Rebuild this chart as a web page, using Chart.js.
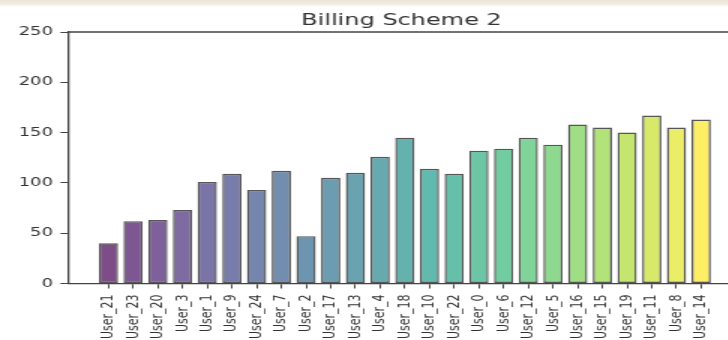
<!DOCTYPE html>
<html>
<head>
<meta charset="utf-8">
<script src="https://cdn.jsdelivr.net/npm/chart.js@4/dist/chart.umd.min.js"></script>
<style>
    html, body {
        margin: 0;
        padding: 0;
        width: 728px;
        height: 340px;
        overflow: hidden;
        background: linear-gradient(to bottom, #ece5d6 0px, #f2ede3 4px, #ffffff 7px);
    }
    /* o gráfico é desenhado mais estreito e esticado na horizontal */
    #area {
        position: absolute;
        left: 0;
        top: 0;
        width: 490px;
        height: 340px;
        transform: scaleX(1.5);
        transform-origin: 0 0;
    }
</style>
</head>
<body>
<div id="area"><canvas id="myChart"></canvas></div>
<script>
// Dados do gráfico
var usuarios = ['User_21', 'User_23', 'User_20', 'User_3', 'User_1', 'User_9', 'User_24', 'User_7',
    'User_2', 'User_17', 'User_13', 'User_4', 'User_18', 'User_10', 'User_22', 'User_0', 'User_6',
    'User_12', 'User_5', 'User_16', 'User_15', 'User_19', 'User_11', 'User_8', 'User_14'];
var valores = [40, 62, 63, 73, 101, 109, 93, 112, 47, 105, 110, 126, 145, 114, 109, 132, 134,
    145, 138, 158, 155, 150, 167, 155, 163];
var ticksY = [0, 50, 100, 150, 200, 250];
var titulo = 'Billing Scheme 2';

// Paleta viridis (10 pontos), interpolada para cada barra
var viridis = ['#440154', '#482878', '#3e4989', '#31688e', '#26828e', '#1f9e89', '#35b779', '#6ece58', '#b5de2b', '#fde725'];

function hexParaRgb(h) {
    return [parseInt(h.substr(1, 2), 16), parseInt(h.substr(3, 2), 16), parseInt(h.substr(5, 2), 16)];
}

function corViridis(t) {
    var pos = t * (viridis.length - 1);
    var i = Math.min(Math.floor(pos), viridis.length - 2);
    var f = pos - i;
    var a = hexParaRgb(viridis[i]);
    var b = hexParaRgb(viridis[i + 1]);
    var c = a.map((v, k) => Math.round(v + (b[k] - v) * f));
    return 'rgba(' + c[0] + ',' + c[1] + ',' + c[2] + ',0.7)';
}

var cores = usuarios.map((u, i) => corViridis(i / (usuarios.length - 1)));

// Linha superior do quadro do gráfico
var bordaSuperior = {
    id: 'bordaSuperior',
    afterDraw(chart) {
        var ctx = chart.ctx;
        var area = chart.chartArea;
        ctx.save();
        ctx.strokeStyle = '#444';
        ctx.lineWidth = 1.3;
        ctx.beginPath();
        ctx.moveTo(area.left, area.top);
        ctx.lineTo(area.right, area.top);
        ctx.stroke();
        ctx.restore();
    }
};

var fonte = 'DejaVu Sans';

var ctx = document.getElementById('myChart').getContext('2d');
var myChart = new Chart(ctx, {
    type: 'bar',
    data: {
        datasets: [{
            label: titulo,
            data: valores.map((v, i) => ({ x: i, y: v })),
            backgroundColor: cores,
            borderColor: 'rgba(30,30,30,0.75)',
            borderWidth: 1.4,
            borderSkipped: false,
            barPercentage: 0.78,
            categoryPercentage: 1.0
        }]
    },
    options: {
        responsive: true,
        maintainAspectRatio: false,
        animation: false,
        layout: { padding: 0 },
        plugins: {
            legend: { display: false },
            tooltip: { enabled: false },
            title: {
                display: true,
                text: titulo,
                fullSize: false,
                color: '#333',
                font: { family: fonte, size: 16, weight: 'normal' },
                padding: { top: 11, bottom: 1.8 }
            }
        },
        scales: {
            x: {
                type: 'linear',
                offset: false,
                min: -1.64,
                max: 25.37,
                afterBuildTicks: function (scale) {
                    scale.ticks = usuarios.map((u, i) => ({ value: i }));
                },
                afterFit: function (scale) {
                    scale.height = 56.5;
                    scale.paddingLeft = 0;
                    scale.paddingRight = 0;
                },
                ticks: {
                    autoSkip: false,
                    minRotation: 90,
                    maxRotation: 90,
                    padding: 6,
                    color: '#333',
                    font: { family: fonte, size: 11 },
                    callback: function (valor) {
                        return usuarios[valor];
                    }
                },
                grid: {
                    offset: false,
                    drawOnChartArea: false,
                    tickLength: 5,
                    tickColor: '#444'
                },
                border: { display: true, color: '#444', width: 1.3 }
            },
            y: {
                min: 0,
                max: 250,
                afterBuildTicks: function (scale) {
                    scale.ticks = ticksY.map(v => ({ value: v }));
                },
                afterFit: function (scale) {
                    scale.width = 45.3;
                },
                ticks: {
                    padding: 5,
                    color: '#333',
                    font: { family: fonte, size: 12 }
                },
                grid: {
                    drawOnChartArea: false,
                    tickLength: 5,
                    tickColor: '#444'
                },
                border: { display: true, color: '#444', width: 1.3 }
            }
        }
    },
    plugins: [bordaSuperior]
});
</script>
</body>
</html>
